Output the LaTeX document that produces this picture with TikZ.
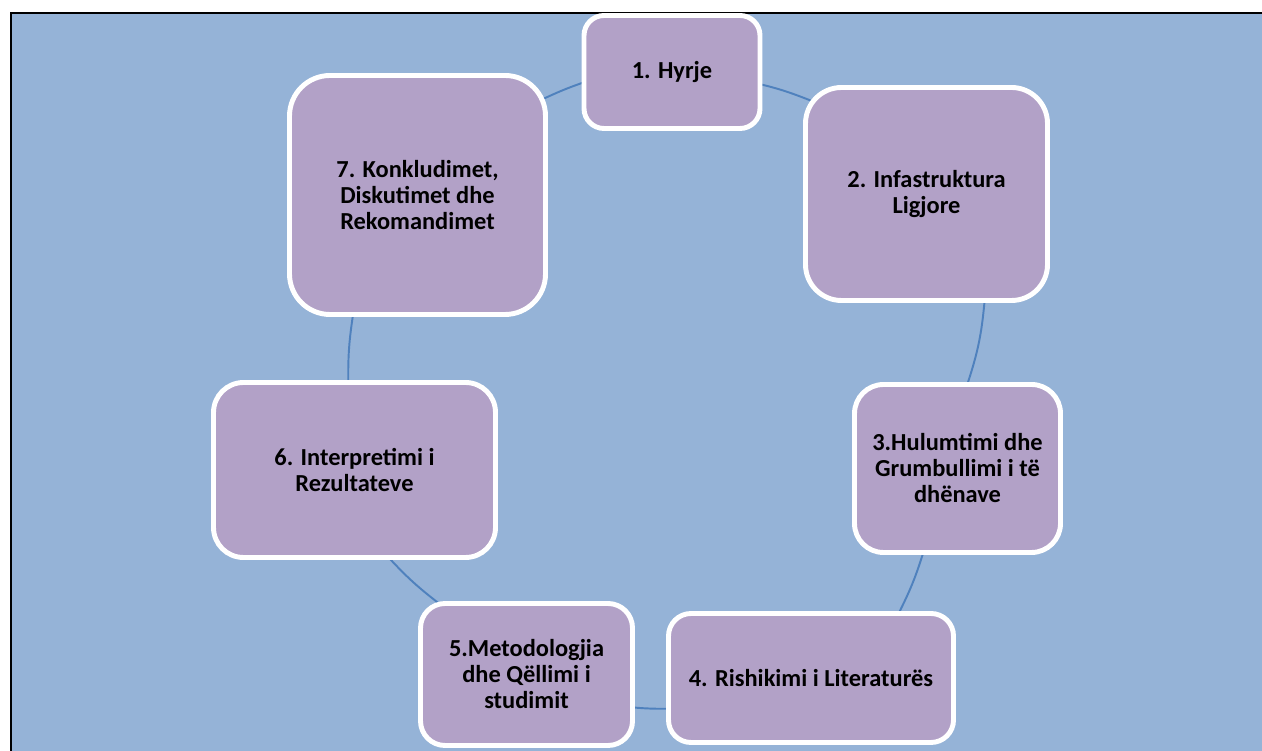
\documentclass[tikz,border=0pt]{standalone}
\usepackage{fontspec}
\setmainfont{Carlito}
\usepackage{tikz}
\usetikzlibrary{positioning, backgrounds}
\definecolor{bgblue}{HTML}{95B3D7}
\definecolor{boxlilac}{HTML}{B2A1C7}
\definecolor{linkblue}{HTML}{4F81BD}

\begin{document}
\begin{tikzpicture}[
    stage/.style={rectangle, draw=white, line width=2.8pt, fill=boxlilac, align=center, inner sep=4pt, font=\bfseries\fontsize{13.9}{14.8}\selectfont},
    link/.style={draw=linkblue, line width=1.1pt, shorten <=-6pt, shorten >=-6pt}
]
\useasboundingbox (0,0) rectangle (25.24,15.02);
\node[stage, minimum width=3.52cm, minimum height=2.26cm, rounded corners=0.4cm] (s1) at (13.44,13.58) {1. Hyrje};
\node[stage, minimum width=4.84cm, minimum height=4.26cm, rounded corners=0.72cm] (s2) at (18.53,11.14) {2. Infastruktura\\Ligjore};
\node[stage, minimum width=4.12cm, minimum height=3.36cm, rounded corners=0.58cm] (s3) at (19.15,5.65) {3.Hulumtimi dhe\\Grumbullimi i të\\dhënave};
\node[stage, minimum width=5.70cm, minimum height=2.58cm, rounded corners=0.45cm] (s4) at (16.22,1.46) {4. Rishikimi i Literaturës};
\node[stage, minimum width=4.24cm, minimum height=2.84cm, rounded corners=0.49cm] (s5) at (10.53,1.53) {5.Metodologjia\\dhe Qëllimi i\\studimit};
\node[stage, minimum width=5.64cm, minimum height=3.50cm, rounded corners=0.6cm] (s6) at (7.09,5.62) {6. Interpretimi i\\Rezultateve};
\node[stage, minimum width=5.12cm, minimum height=4.78cm, rounded corners=0.81cm] (s7) at (8.35,11.12) {7. Konkludimet,\\Diskutimet dhe\\Rekomandimet};
\begin{pgfonlayer}{background}
\fill[bgblue] (0.24,0) rectangle (25.24,14.74);
\draw[line width=0.04cm] (0.22,0) -- (0.22,14.76) -- (25.24,14.76);
\draw[link] (s1.-8) to[bend left=4] (s2.142);
\draw[link] (s2.-62.6) to[bend left=7] (s3.83.7);
\draw[link] (s3.-112.3) to[bend left=5] (s4.37);
\draw[link] (s4.192.4) to[bend left=3] (s5.-17.2);
\draw[link] (s5.141.6) to[bend left=5] (s6.-68.5);
\draw[link] (s6.94.8) to[bend left=5] (s7.242.5);
\draw[link] (s7.37.1) to[bend left=3] (s1.187);
\end{pgfonlayer}
\end{tikzpicture}
\end{document}
